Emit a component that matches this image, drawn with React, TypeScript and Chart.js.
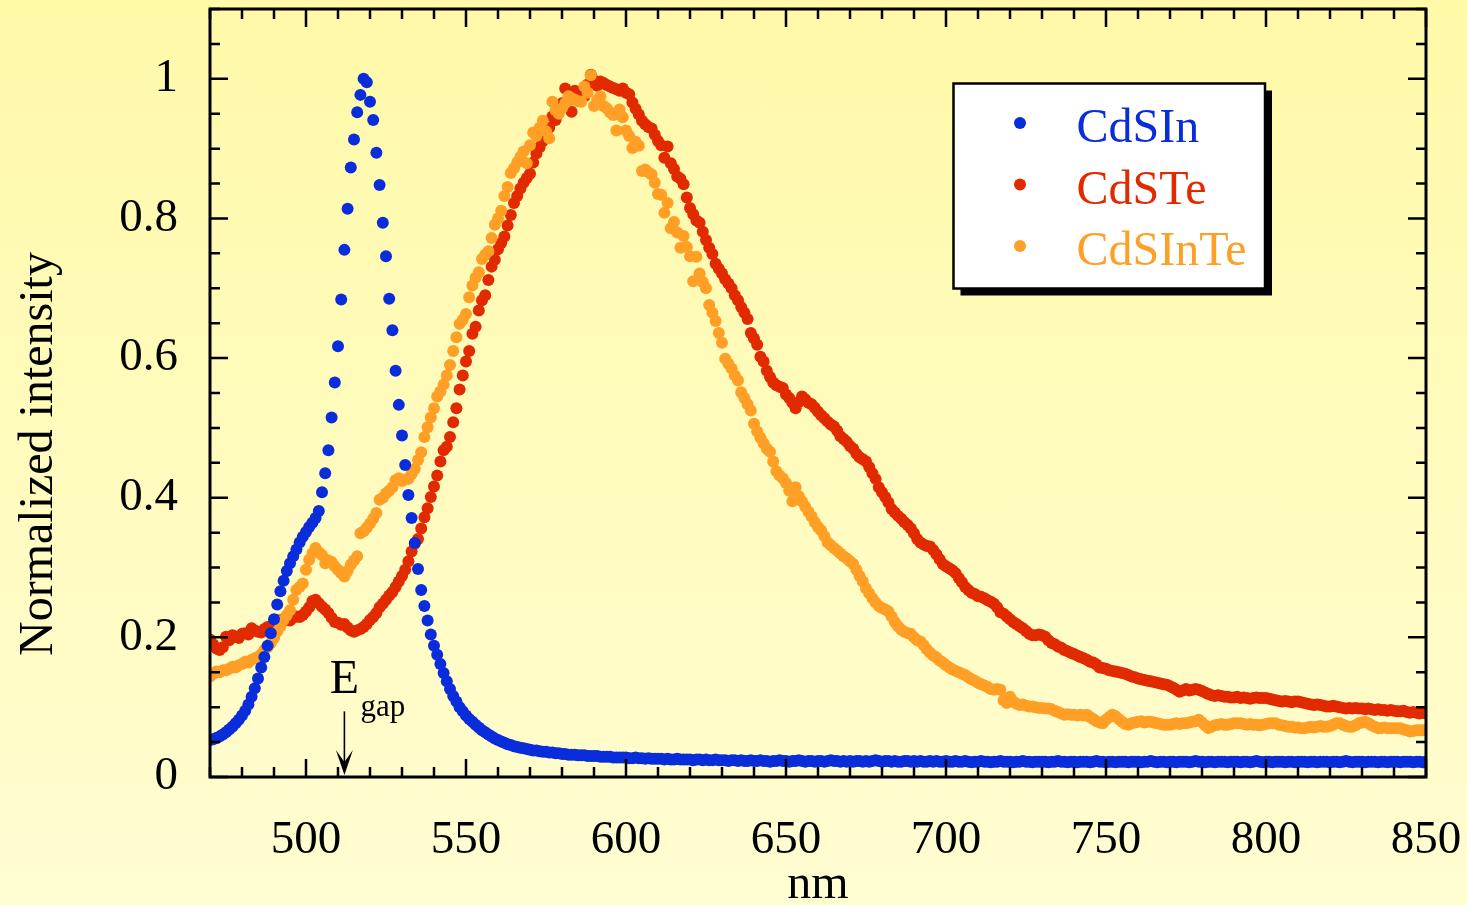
import React, { useEffect, useRef } from 'react';
import { Chart, registerables } from 'chart.js';

Chart.register(...registerables);

// ---------- data ----------
const WL_START = 470;
const WL_END = 850;
const X_TICK_STEP = 50;
const X_MINOR_STEP = 10;
const Y_MIN = 0;
const Y_MAX = 1.1;
const Y_TICK_STEP = 0.2;
const Y_MINOR_STEP = 0.05;

const X_TITLE = 'nm';
const Y_TITLE = 'Normalized intensity';
const SERIES_LABELS = ['CdSIn', 'CdSTe', 'CdSInTe'];
const SERIES_COLORS = ['#0a2ddb', '#e22a00', '#ff9f25'];

const EGAP_NM = 512;
const EGAP_ARROW_FROM = 0.094;
const EGAP_ARROW_TO = 0.003;

// wavelength sampling grid (1 nm)
const WAVELENGTHS = Array.from({ length: WL_END - WL_START + 1 }, (_, i) => WL_START + i);

// CdSIn, 470..850 nm
const CDSIN = [
  0.053, 0.054, 0.056, 0.058, 0.061, 0.064, 0.068, 0.072, 0.077, 0.082,
  0.088, 0.095, 0.104, 0.115, 0.127, 0.141, 0.157, 0.172, 0.188, 0.206,
  0.226, 0.247, 0.266, 0.281, 0.295, 0.306, 0.316, 0.326, 0.336, 0.344,
  0.351, 0.358, 0.364, 0.371, 0.381, 0.408, 0.435, 0.468, 0.515, 0.565,
  0.617, 0.684, 0.755, 0.814, 0.873, 0.913, 0.952, 0.977, 1.0, 0.995,
  0.967, 0.941, 0.894, 0.848, 0.794, 0.746, 0.685, 0.640, 0.582, 0.533,
  0.489, 0.447, 0.404, 0.371, 0.335, 0.298, 0.268, 0.245, 0.224, 0.204,
  0.188, 0.175, 0.162, 0.149, 0.137, 0.126, 0.116, 0.108, 0.100, 0.094,
  0.088, 0.083, 0.079, 0.075, 0.071, 0.067, 0.064, 0.061, 0.058, 0.055,
  0.053, 0.051, 0.049, 0.047, 0.046, 0.044, 0.043, 0.042, 0.041, 0.040,
  0.039, 0.038, 0.038, 0.037, 0.036, 0.036, 0.035, 0.035, 0.034, 0.034,
  0.033, 0.033, 0.032, 0.032, 0.032, 0.031, 0.031, 0.031, 0.030, 0.030,
  0.030, 0.030, 0.029, 0.029, 0.029, 0.029, 0.028, 0.028, 0.028, 0.028,
  0.028, 0.027, 0.027, 0.028, 0.027, 0.027, 0.026, 0.027, 0.026, 0.026,
  0.026, 0.026, 0.025, 0.026, 0.025, 0.025, 0.026, 0.025, 0.025, 0.025,
  0.025, 0.024, 0.025, 0.025, 0.024, 0.025, 0.024, 0.024, 0.025, 0.024,
  0.024, 0.024, 0.023, 0.024, 0.024, 0.023, 0.024, 0.023, 0.023, 0.024,
  0.023, 0.023, 0.024, 0.023, 0.023, 0.022, 0.023, 0.023, 0.024, 0.023,
  0.023, 0.022, 0.023, 0.023, 0.024, 0.023, 0.022, 0.023, 0.023, 0.022,
  0.023, 0.023, 0.022, 0.023, 0.024, 0.023, 0.023, 0.022, 0.023, 0.022,
  0.023, 0.022, 0.023, 0.023, 0.022, 0.023, 0.022, 0.023, 0.024, 0.023,
  0.022, 0.023, 0.023, 0.022, 0.023, 0.022, 0.022, 0.023, 0.023, 0.022,
  0.023, 0.022, 0.023, 0.022, 0.022, 0.023, 0.022, 0.023, 0.022, 0.022,
  0.023, 0.022, 0.022, 0.023, 0.022, 0.022, 0.023, 0.022, 0.021, 0.022,
  0.022, 0.023, 0.022, 0.022, 0.021, 0.022, 0.022, 0.023, 0.022, 0.022,
  0.022, 0.021, 0.022, 0.022, 0.023, 0.022, 0.022, 0.021, 0.022, 0.022,
  0.022, 0.022, 0.021, 0.022, 0.022, 0.023, 0.022, 0.022, 0.021, 0.022,
  0.022, 0.021, 0.022, 0.022, 0.022, 0.021, 0.022, 0.023, 0.022, 0.022,
  0.021, 0.022, 0.022, 0.021, 0.022, 0.022, 0.022, 0.021, 0.022, 0.022,
  0.022, 0.021, 0.022, 0.022, 0.023, 0.022, 0.021, 0.022, 0.022, 0.021,
  0.022, 0.022, 0.021, 0.022, 0.022, 0.022, 0.021, 0.022, 0.023, 0.022,
  0.022, 0.021, 0.022, 0.022, 0.021, 0.022, 0.022, 0.022, 0.021, 0.022,
  0.022, 0.022, 0.021, 0.022, 0.022, 0.021, 0.022, 0.023, 0.022, 0.021,
  0.022, 0.022, 0.021, 0.022, 0.022, 0.022, 0.021, 0.022, 0.022, 0.021,
  0.022, 0.022, 0.022, 0.021, 0.022, 0.022, 0.021, 0.022, 0.022, 0.022,
  0.021, 0.022, 0.022, 0.021, 0.022, 0.023, 0.022, 0.021, 0.022, 0.022,
  0.022, 0.021, 0.022, 0.022, 0.022, 0.021, 0.022, 0.022, 0.021, 0.022,
  0.022, 0.022, 0.021, 0.022, 0.022, 0.022, 0.021, 0.022, 0.022, 0.021,
  0.022,
];

// CdSTe, 470..850 nm
const CDSTE = [
  0.197, 0.190, 0.184, 0.182, 0.186, 0.201, 0.196, 0.203, 0.201, 0.199,
  0.205, 0.206, 0.204, 0.213, 0.210, 0.208, 0.207, 0.212, 0.215, 0.214,
  0.220, 0.225, 0.222, 0.226, 0.225, 0.224, 0.228, 0.230, 0.229, 0.232,
  0.237, 0.243, 0.252, 0.254, 0.249, 0.244, 0.240, 0.235, 0.228, 0.222,
  0.221, 0.218, 0.219, 0.214, 0.210, 0.208, 0.210, 0.212, 0.215, 0.219,
  0.225, 0.229, 0.235, 0.243, 0.248, 0.254, 0.260, 0.265, 0.272, 0.280,
  0.288, 0.297, 0.309, 0.323, 0.334, 0.341, 0.356, 0.372, 0.385, 0.401,
  0.416, 0.432, 0.452, 0.468, 0.473, 0.487, 0.508, 0.528, 0.555, 0.575,
  0.595, 0.610, 0.635, 0.645, 0.668, 0.683, 0.690, 0.712, 0.731, 0.741,
  0.756, 0.765, 0.774, 0.790, 0.805, 0.822, 0.832, 0.843, 0.851, 0.858,
  0.864, 0.880, 0.893, 0.902, 0.911, 0.920, 0.930, 0.946, 0.941, 0.956,
  0.965, 0.986, 0.970, 0.953, 0.983, 0.980, 0.978, 0.975, 0.992, 1.006,
  0.998, 0.990, 0.996, 0.994, 0.991, 0.989, 0.987, 0.985, 0.983, 0.986,
  0.980, 0.978, 0.966, 0.957, 0.949, 0.940, 0.935, 0.931, 0.929, 0.920,
  0.911, 0.905, 0.887, 0.903, 0.879, 0.871, 0.860, 0.857, 0.849, 0.830,
  0.815, 0.806, 0.797, 0.794, 0.781, 0.769, 0.758, 0.749, 0.735, 0.728,
  0.721, 0.713, 0.707, 0.700, 0.690, 0.683, 0.673, 0.665, 0.656, 0.636,
  0.628, 0.619, 0.602, 0.595, 0.582, 0.573, 0.565, 0.561, 0.559, 0.557,
  0.548, 0.543, 0.536, 0.528, 0.537, 0.545, 0.541, 0.536, 0.534, 0.529,
  0.523, 0.518, 0.514, 0.509, 0.505, 0.502, 0.496, 0.488, 0.484, 0.480,
  0.474, 0.470, 0.463, 0.458, 0.455, 0.452, 0.444, 0.435, 0.427, 0.415,
  0.408, 0.401, 0.393, 0.384, 0.379, 0.374, 0.370, 0.365, 0.361, 0.356,
  0.349, 0.341, 0.336, 0.333, 0.331, 0.330, 0.325, 0.319, 0.312, 0.305,
  0.302, 0.299, 0.296, 0.292, 0.285, 0.279, 0.272, 0.268, 0.264, 0.262,
  0.259, 0.258, 0.256, 0.253, 0.251, 0.248, 0.243, 0.236, 0.234, 0.230,
  0.226, 0.222, 0.219, 0.216, 0.213, 0.209, 0.205, 0.203, 0.203, 0.204,
  0.203, 0.201, 0.196, 0.192, 0.190, 0.187, 0.185, 0.182, 0.180, 0.178,
  0.176, 0.174, 0.172, 0.170, 0.168, 0.165, 0.164, 0.161, 0.157, 0.156,
  0.155, 0.153, 0.152, 0.151, 0.150, 0.149, 0.148, 0.146, 0.144, 0.143,
  0.141, 0.140, 0.139, 0.138, 0.137, 0.136, 0.135, 0.134, 0.133, 0.132,
  0.130, 0.128, 0.125, 0.122, 0.124, 0.126, 0.124, 0.125, 0.126, 0.125,
  0.123, 0.121, 0.119, 0.117, 0.116, 0.117, 0.116, 0.115, 0.115, 0.114,
  0.114, 0.115, 0.113, 0.114, 0.113, 0.112, 0.113, 0.114, 0.113, 0.113,
  0.113, 0.112, 0.111, 0.110, 0.109, 0.108, 0.109, 0.108, 0.107, 0.108,
  0.108, 0.107, 0.106, 0.105, 0.104, 0.103, 0.104, 0.103, 0.102, 0.101,
  0.101, 0.102, 0.101, 0.100, 0.099, 0.098, 0.099, 0.098, 0.099, 0.098,
  0.098, 0.097, 0.098, 0.097, 0.096, 0.097, 0.096, 0.096, 0.095, 0.096,
  0.095, 0.094, 0.094, 0.095, 0.093, 0.092, 0.093, 0.092, 0.091, 0.092,
  0.091,
];

// CdSInTe, 470..850 nm
const CDSINTE = [
  0.144, 0.148, 0.151, 0.150, 0.153, 0.153, 0.155, 0.158, 0.157, 0.160,
  0.162, 0.165, 0.164, 0.168, 0.170, 0.172, 0.176, 0.182, 0.186, 0.192,
  0.199, 0.208, 0.216, 0.225, 0.232, 0.239, 0.254, 0.268, 0.272, 0.277,
  0.297, 0.311, 0.320, 0.328, 0.322, 0.318, 0.306, 0.310, 0.308, 0.302,
  0.297, 0.292, 0.287, 0.295, 0.304, 0.310, 0.316, 0.349, 0.352, 0.357,
  0.363, 0.370, 0.378, 0.397, 0.400, 0.406, 0.410, 0.415, 0.425, 0.428,
  0.424, 0.426, 0.427, 0.434, 0.441, 0.454, 0.465, 0.487, 0.501, 0.515,
  0.528, 0.545, 0.552, 0.562, 0.575, 0.590, 0.610, 0.630, 0.649, 0.655,
  0.663, 0.687, 0.704, 0.715, 0.723, 0.742, 0.748, 0.753, 0.772, 0.791,
  0.800, 0.811, 0.832, 0.845, 0.865, 0.872, 0.880, 0.888, 0.896, 0.879,
  0.905, 0.923, 0.918, 0.930, 0.940, 0.925, 0.915, 0.967, 0.955, 0.950,
  0.958, 0.965, 0.975, 0.972, 0.970, 0.968, 0.967, 0.989, 0.980, 1.005,
  0.961, 0.970, 0.975, 0.961, 0.958, 0.952, 0.948, 0.926, 0.956, 0.945,
  0.926, 0.918, 0.901, 0.910, 0.904, 0.868, 0.870, 0.866, 0.863, 0.851,
  0.835, 0.834, 0.808, 0.822, 0.786, 0.795, 0.780, 0.758, 0.775, 0.759,
  0.746, 0.710, 0.745, 0.721, 0.709, 0.700, 0.676, 0.665, 0.653, 0.636,
  0.622, 0.599, 0.592, 0.585, 0.575, 0.568, 0.551, 0.543, 0.534, 0.525,
  0.506, 0.495, 0.486, 0.478, 0.470, 0.466, 0.452, 0.438, 0.432, 0.428,
  0.421, 0.410, 0.395, 0.415, 0.402, 0.395, 0.387, 0.380, 0.373, 0.365,
  0.358, 0.353, 0.345, 0.336, 0.332, 0.328, 0.324, 0.320, 0.316, 0.313,
  0.309, 0.305, 0.297, 0.288, 0.280, 0.270, 0.263, 0.256, 0.250, 0.245,
  0.242, 0.240, 0.237, 0.230, 0.222, 0.216, 0.211, 0.208, 0.206, 0.205,
  0.200, 0.196, 0.194, 0.189, 0.183, 0.178, 0.174, 0.171, 0.167, 0.164,
  0.160, 0.157, 0.154, 0.152, 0.150, 0.148, 0.146, 0.143, 0.140, 0.138,
  0.135, 0.133, 0.131, 0.129, 0.126, 0.125, 0.126, 0.125, 0.110, 0.106,
  0.115, 0.108, 0.105, 0.103, 0.104, 0.102, 0.101, 0.101, 0.100, 0.099,
  0.099, 0.098, 0.098, 0.097, 0.095, 0.093, 0.091, 0.089, 0.090, 0.089,
  0.089, 0.088, 0.089, 0.088, 0.089, 0.086, 0.083, 0.080, 0.078, 0.077,
  0.082, 0.086, 0.089, 0.087, 0.083, 0.079, 0.076, 0.075, 0.077, 0.078,
  0.079, 0.080, 0.078, 0.079, 0.079, 0.078, 0.077, 0.076, 0.075, 0.075,
  0.075, 0.076, 0.077, 0.076, 0.077, 0.077, 0.078, 0.079, 0.080, 0.082,
  0.078, 0.074, 0.070, 0.072, 0.074, 0.075, 0.076, 0.075, 0.075, 0.076,
  0.077, 0.077, 0.077, 0.076, 0.075, 0.076, 0.075, 0.075, 0.074, 0.075,
  0.076, 0.077, 0.077, 0.077, 0.075, 0.074, 0.073, 0.072, 0.072, 0.071,
  0.071, 0.070, 0.070, 0.071, 0.072, 0.071, 0.072, 0.073, 0.072, 0.072,
  0.073, 0.075, 0.077, 0.077, 0.075, 0.073, 0.072, 0.072, 0.074, 0.077,
  0.078, 0.079, 0.077, 0.074, 0.072, 0.070, 0.070, 0.071, 0.070, 0.070,
  0.070, 0.070, 0.070, 0.068, 0.067, 0.065, 0.066, 0.067, 0.067, 0.067,
  0.067,
];

const SERIES = [CDSIN, CDSTE, CDSINTE];

// ---------- styling ----------
const SERIF = "'Liberation Serif', 'Times New Roman', serif";
const DOT_RADIUS = 6;

const zeroScalePadding = (s: any) => {
  s.paddingTop = 0;
  s.paddingBottom = 0;
  s.paddingLeft = 0;
  s.paddingRight = 0;
};

const decorPlugin = {
  id: 'decor',
  afterDraw(chart: any) {
    const { ctx, chartArea: a, scales } = chart;
    const xs = scales.x;
    const ys = scales.y;
    ctx.save();
    ctx.strokeStyle = '#000';
    ctx.fillStyle = '#000';
    ctx.lineCap = 'butt';

    // inward ticks on all four sides
    ctx.lineWidth = 2.5;
    ctx.beginPath();
    for (let v = WL_START; v <= WL_END; v += X_MINOR_STEP) {
      const px = xs.getPixelForValue(v);
      const len = v % X_TICK_STEP === 0 ? 18 : 10;
      ctx.moveTo(px, a.bottom);
      ctx.lineTo(px, a.bottom - len);
      ctx.moveTo(px, a.top);
      ctx.lineTo(px, a.top + len);
    }
    const nMinor = Math.round((Y_MAX - Y_MIN) / Y_MINOR_STEP);
    const perMajor = Math.round(Y_TICK_STEP / Y_MINOR_STEP);
    for (let i = 0; i <= nMinor; i++) {
      const py = ys.getPixelForValue(Y_MIN + i * Y_MINOR_STEP);
      const len = i % perMajor === 0 ? 18 : 10;
      ctx.moveTo(a.left, py);
      ctx.lineTo(a.left + len, py);
      ctx.moveTo(a.right, py);
      ctx.lineTo(a.right - len, py);
    }
    ctx.stroke();

    // frame
    ctx.lineWidth = 3;
    ctx.strokeRect(a.left, a.top, a.right - a.left, a.bottom - a.top);

    // y title
    ctx.save();
    ctx.translate(51.5, 454);
    ctx.rotate(-Math.PI / 2);
    ctx.font = `48px ${SERIF}`;
    ctx.textAlign = 'center';
    ctx.textBaseline = 'alphabetic';
    ctx.fillText(Y_TITLE, 0, 0);
    ctx.restore();

    // E_gap annotation
    const ax = xs.getPixelForValue(EGAP_NM);
    const yFrom = ys.getPixelForValue(EGAP_ARROW_FROM);
    const yTip = ys.getPixelForValue(EGAP_ARROW_TO);
    ctx.lineWidth = 1.6;
    ctx.beginPath();
    ctx.moveTo(ax, yFrom);
    ctx.lineTo(ax, yTip - 8);
    ctx.stroke();
    ctx.beginPath();
    ctx.moveTo(ax, yTip);
    ctx.lineTo(ax - 8.5, yTip - 25);
    ctx.lineTo(ax, yTip - 13);
    ctx.lineTo(ax + 8.5, yTip - 25);
    ctx.closePath();
    ctx.fill();
    ctx.font = `48px ${SERIF}`;
    ctx.textAlign = 'center';
    ctx.textBaseline = 'alphabetic';
    ctx.fillText('E', ax, yFrom - 18);
    ctx.font = `31px ${SERIF}`;
    ctx.textAlign = 'left';
    ctx.fillText('gap', ax + 16, yFrom + 5);

    // legend box with shadow
    const bx = 953.5, by = 83.5, bw = 311.5, bh = 205;
    ctx.fillStyle = '#000';
    ctx.fillRect(bx + 7, by + 7, bw, bh);
    ctx.fillStyle = '#fff';
    ctx.fillRect(bx, by, bw, bh);
    ctx.lineWidth = 2.5;
    ctx.strokeStyle = '#000';
    ctx.strokeRect(bx, by, bw, bh);
    ctx.font = `48px ${SERIF}`;
    ctx.textAlign = 'left';
    ctx.textBaseline = 'alphabetic';
    chart.data.datasets.forEach((ds: any, i: number) => {
      const rowY = 123 + i * 61.5;
      ctx.fillStyle = ds.backgroundColor;
      ctx.beginPath();
      ctx.arc(1020, rowY, DOT_RADIUS, 0, Math.PI * 2);
      ctx.fill();
      ctx.fillText(ds.label, 1076.5, rowY + 19);
    });
    ctx.restore();
  },
};

export default function App() {
  const ref = useRef<HTMLCanvasElement | null>(null);

  useEffect(() => {
    if (!ref.current) return;
    const drawOrder = [0, 2, 1];
    const datasets = SERIES.map((vals, s) => ({
      label: SERIES_LABELS[s],
      data: WAVELENGTHS.map((x, i) => ({ x, y: vals[i] })),
      backgroundColor: SERIES_COLORS[s],
      borderColor: SERIES_COLORS[s],
      pointRadius: DOT_RADIUS,
      pointHoverRadius: DOT_RADIUS,
      pointBorderWidth: 0,
      showLine: false,
      order: drawOrder[s],
    }));
    const chart = new Chart(ref.current, {
      type: 'scatter',
      data: { datasets },
      plugins: [decorPlugin],
      options: {
        responsive: false,
        maintainAspectRatio: false,
        animation: false,
        devicePixelRatio: 1,
        events: [],
        layout: { autoPadding: false, padding: { top: 9, right: 41, bottom: 0, left: 0 } },
        plugins: {
          legend: { display: false },
          tooltip: { enabled: false },
        },
        scales: {
          x: {
            type: 'linear',
            min: WL_START,
            max: WL_END,
            afterFit: (s: any) => { s.height = 128; zeroScalePadding(s); },
            grid: { display: false, drawTicks: false },
            border: { display: false },
            ticks: {
              stepSize: X_TICK_STEP,
              includeBounds: false,
              autoSkip: false,
              maxRotation: 0,
              minRotation: 0,
              padding: 35,
              color: '#000',
              font: { family: SERIF, size: 47, lineHeight: 1.2 },
              callback: (v: any) => String(v),
            },
            title: {
              display: true,
              text: X_TITLE,
              color: '#000',
              font: { family: SERIF, size: 48, lineHeight: 0.8 },
              padding: 0,
            },
          },
          y: {
            type: 'linear',
            min: Y_MIN,
            max: Y_MAX,
            afterFit: (s: any) => { s.width = 210; zeroScalePadding(s); },
            grid: { display: false, drawTicks: false },
            border: { display: false },
            ticks: {
              stepSize: Y_TICK_STEP,
              includeBounds: false,
              padding: 32,
              color: '#000',
              font: { family: SERIF, size: 47, lineHeight: 1.2 },
              callback: (v: any) => String(Math.round(Number(v) * 10) / 10),
            },
          },
        },
      },
    });
    return () => chart.destroy();
  }, []);

  return (
    <div
      style={{
        position: 'fixed',
        left: 0,
        top: 0,
        width: 1467,
        height: 905,
        background: 'linear-gradient(to bottom, #fff9a8, #fffdd2)',
      }}
    >
      <canvas ref={ref} width={1467} height={905} style={{ display: 'block' }} />
    </div>
  );
}
